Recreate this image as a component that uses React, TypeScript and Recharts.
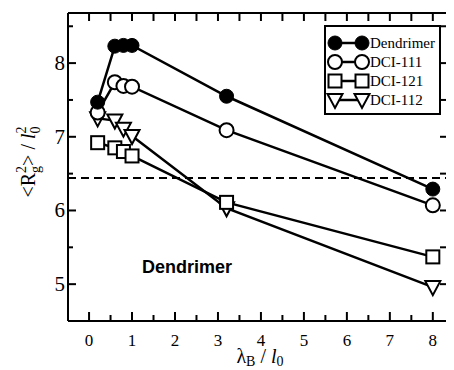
import { LineChart, Line, XAxis, YAxis, ReferenceLine } from 'recharts'

// lambda_B / l0 values
const xs = [0.2, 0.6, 0.8, 1.0, 3.2, 8]
// <Rg^2> / l0^2 per series
const dendrimer = [7.47, 8.23, 8.24, 8.24, 7.55, 6.29]
const dci111 = [7.33, 7.74, 7.69, 7.68, 7.09, 6.07]
const dci121 = [6.92, 6.85, 6.8, 6.74, 6.11, 5.37]
const dci112 = [7.25, 7.22, 7.11, 7.01, 6.03, 4.96]
const refLevel = 6.44

const xTicks = [0, 0.5, 1, 1.5, 2, 2.5, 3, 3.5, 4, 4.5, 5, 5.5, 6, 6.5, 7, 7.5, 8]
const yTicks = [5, 5.5, 6, 6.5, 7, 7.5, 8, 8.5]

const data = xs.map((x, i) => ({
  x,
  dendrimer: dendrimer[i],
  dci111: dci111[i],
  dci121: dci121[i],
  dci112: dci112[i],
}))

const SERIF = 'Liberation Serif'
const X_DOMAIN: [number, number] = [-0.49, 8.33]
const Y_DOMAIN: [number, number] = [4.5, 8.68]

type Kind = 'filled' | 'circle' | 'square' | 'tri'

function Marker({ kind, cx, cy }: { kind: Kind; cx: number; cy: number }) {
  if (kind === 'filled') return <circle cx={cx} cy={cy} r={7} fill="#000" stroke="#000" strokeWidth={1} />
  if (kind === 'circle') return <circle cx={cx} cy={cy} r={7} fill="#fff" stroke="#000" strokeWidth={2} />
  if (kind === 'square')
    return <rect x={cx - 6.5} y={cy - 6.5} width={13} height={13} fill="#fff" stroke="#000" strokeWidth={2} />
  return (
    <polygon
      points={`${cx - 7.5},${cy - 6} ${cx + 7.5},${cy - 6} ${cx},${cy + 8}`}
      fill="#fff"
      stroke="#000"
      strokeWidth={2}
    />
  )
}

const dot = (kind: Kind) => (p: any) => <Marker key={`${kind}-${p.index}`} kind={kind} cx={p.cx} cy={p.cy} />

const isMajor = (v: number) => Number.isInteger(v)

// frame ticks all point inward
const BottomTick = ({ x, y, payload }: any) => (
  <g>
    <line x1={x} x2={x} y1={y} y2={y - (isMajor(payload.value) ? 9 : 6)} stroke="#000" strokeWidth={2} />
    {isMajor(payload.value) && (
      <text x={x} y={y + 25} textAnchor="middle" fontSize={17} fontFamily={SERIF} fill="#000">
        {payload.value}
      </text>
    )}
  </g>
)

const TopTick = ({ x, y }: any) => (
  <line x1={x} x2={x} y1={y} y2={y + 8} stroke="#000" strokeWidth={2} />
)

const LeftTick = ({ x, y, payload }: any) => (
  <g>
    <line x1={x} x2={x + (isMajor(payload.value) ? 8 : 5)} y1={y} y2={y} stroke="#000" strokeWidth={2} />
    {isMajor(payload.value) && (
      <text x={x - 3} y={y + 7} textAnchor="end" fontSize={21} fontFamily={SERIF} fill="#000">
        {payload.value}
      </text>
    )}
  </g>
)

const RightTick = ({ x, y }: any) => (
  <line x1={x} x2={x - 7} y1={y} y2={y} stroke="#000" strokeWidth={2} />
)

const legendRows: { name: string; kind: Kind }[] = [
  { name: 'Dendrimer', kind: 'filled' },
  { name: 'DCI-111', kind: 'circle' },
  { name: 'DCI-121', kind: 'square' },
  { name: 'DCI-112', kind: 'tri' },
]

const LegendBox = () => (
  <svg width={117} height={90} style={{ display: 'block' }}>
    <rect x={1} y={1} width={115} height={88} fill="#fff" stroke="#000" strokeWidth={2} />
    {legendRows.map((r, i) => {
      const cy = 18 + i * 19
      return (
        <g key={r.name}>
          <line x1={11} x2={38} y1={cy} y2={cy} stroke="#000" strokeWidth={2.5} />
          <Marker kind={r.kind} cx={11} cy={cy} />
          <Marker kind={r.kind} cx={38} cy={cy} />
          <text x={46} y={cy + 5} fontSize={15} fontFamily={SERIF} fill="#000">
            {r.name}
          </text>
        </g>
      )
    })}
  </svg>
)

const YTitle = () => (
  <text
    transform="translate(27,154) rotate(-90)"
    textAnchor="middle"
    fontSize={20}
    fontFamily={SERIF}
    fill="#000"
  >
    {'<R'}
    <tspan fontSize={14} dy={5}>g</tspan>
    <tspan fontSize={14} dx={-7} dy={-14}>2</tspan>
    <tspan dy={9}>{'> / '}</tspan>
    <tspan fontStyle="italic">l</tspan>
    <tspan fontSize={14} dy={5}>0</tspan>
    <tspan fontSize={14} dx={-7} dy={-14}>2</tspan>
  </text>
)

const XTitle = () => (
  <text x={252} y={355} textAnchor="middle" fontSize={20} fontFamily={SERIF} fill="#000">
    λ
    <tspan fontSize={14} dy={3}>B</tspan>
    <tspan dy={-3}>{' / '}</tspan>
    <tspan fontStyle="italic">l</tspan>
    <tspan fontSize={14} dy={3}>0</tspan>
  </text>
)

const series: { key: string; kind: Kind }[] = [
  { key: 'dci112', kind: 'tri' },
  { key: 'dci121', kind: 'square' },
  { key: 'dci111', kind: 'circle' },
  { key: 'dendrimer', kind: 'filled' },
]

export default function App() {
  return (
    <div style={{ position: 'relative', width: 446, height: 362 }}>
      <LineChart width={446} height={362} data={data} margin={{ top: 4, right: 6, bottom: 0, left: 0 }}>
        <XAxis
          dataKey="x"
          type="number"
          domain={X_DOMAIN}
          allowDataOverflow
          ticks={xTicks}
          interval={0}
          height={49}
          tickSize={0}
          tickMargin={0}
          tickLine={false}
          tick={BottomTick}
          axisLine={{ stroke: '#000', strokeWidth: 2 }}
          label={{ content: () => <XTitle /> }}
        />
        <XAxis
          xAxisId="top"
          orientation="top"
          dataKey="x"
          type="number"
          domain={X_DOMAIN}
          allowDataOverflow
          ticks={xTicks}
          interval={0}
          height={1}
          tickSize={0}
          tickMargin={0}
          tickLine={false}
          tick={TopTick}
          axisLine={{ stroke: '#000', strokeWidth: 2 }}
        />
        <YAxis
          type="number"
          domain={Y_DOMAIN}
          allowDataOverflow
          ticks={yTicks}
          interval={0}
          width={60}
          tickSize={0}
          tickMargin={0}
          tickLine={false}
          tick={LeftTick}
          axisLine={{ stroke: '#000', strokeWidth: 2 }}
          label={{ content: () => <YTitle /> }}
        />
        <YAxis
          yAxisId="right"
          orientation="right"
          type="number"
          domain={Y_DOMAIN}
          allowDataOverflow
          ticks={yTicks}
          interval={0}
          width={1}
          tickSize={0}
          tickMargin={0}
          tickLine={false}
          tick={RightTick}
          axisLine={{ stroke: '#000', strokeWidth: 2 }}
        />
        <ReferenceLine y={refLevel} stroke="#000" strokeWidth={2} strokeDasharray="8 5" />
        {/* invisible series so the top / right frame axes get drawn */}
        <Line
          xAxisId="top"
          yAxisId="right"
          dataKey="dendrimer"
          stroke="none"
          dot={false}
          activeDot={false}
          legendType="none"
          isAnimationActive={false}
        />
        {series.map(s => (
          <Line
            key={s.key}
            dataKey={s.key}
            type="linear"
            stroke="#000"
            strokeWidth={2.5}
            dot={dot(s.kind)}
            activeDot={false}
            isAnimationActive={false}
          />
        ))}
      </LineChart>
      <div style={{ position: 'absolute', left: 316, top: 17 }}>
        <LegendBox />
      </div>
      <div
        style={{
          position: 'absolute',
          left: 134,
          top: 250,
          fontFamily: '"Liberation Sans", Arial, sans-serif',
          fontWeight: 'bold',
          fontSize: 18,
          lineHeight: '18px',
          color: '#000',
        }}
      >
        Dendrimer
      </div>
    </div>
  )
}
